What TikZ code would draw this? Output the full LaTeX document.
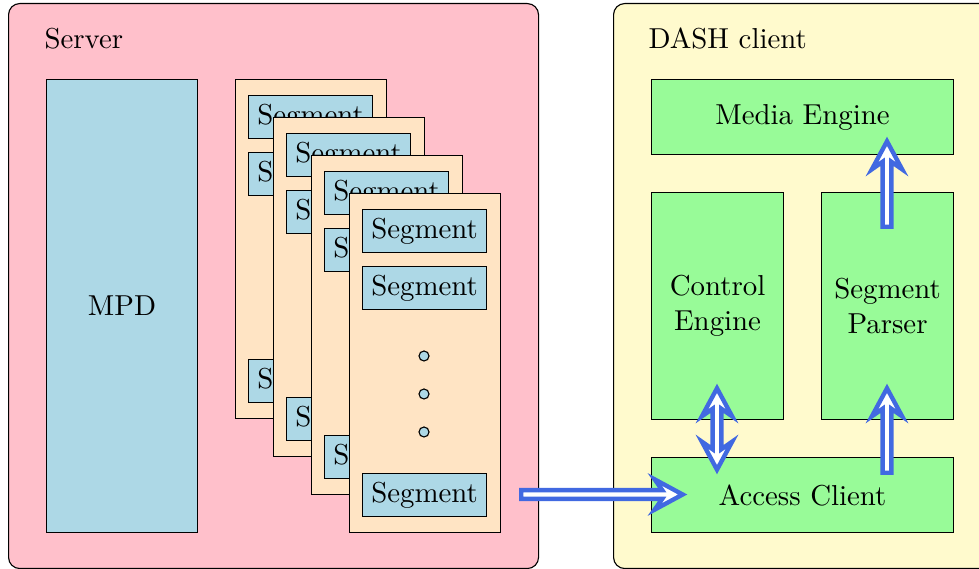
\documentclass[tikz,border=0pt]{standalone}
\usetikzlibrary{calc}
\definecolor{srvpink}{RGB}{255,192,203}
\definecolor{lblue}{RGB}{173,216,230}
\definecolor{bisq}{RGB}{255,228,196}
\definecolor{lemon}{RGB}{255,250,205}
\definecolor{pgreen}{RGB}{152,251,152}
\definecolor{royal}{RGB}{65,105,225}
\newdimen\pxu \pxu=0.3571pt
% fat outlined arrow from tail #1 to tip #2 (named coordinates)
\newcommand\fatarrow[2]{%
  \coordinate (#2p) at ($(#2)!1.9pt!(#1)$);
  \coordinate (#2b) at ($(#2)!11.9pt!(#1)$);
  \coordinate (#2n) at ($(#2)!9.2pt!(#1)$);
  \coordinate (#1p) at ($(#1)!0.78pt!(#2)$);
  \draw[fatarr] ($(#1p)!1.56pt!90:(#2)$) -- ($(#2n)!1.56pt!90:(#2)$)
    -- ($(#2b)!5.4pt!90:(#2)$) -- (#2p) -- ($(#2b)!5.4pt!-90:(#2)$)
    -- ($(#2n)!1.56pt!-90:(#2)$) -- ($(#1p)!1.56pt!-90:(#2)$) -- cycle;
}
% fat outlined arrow with heads at both ends
\newcommand\fatdarrow[2]{%
  \coordinate (#2p) at ($(#2)!1.9pt!(#1)$);
  \coordinate (#2b) at ($(#2)!11.9pt!(#1)$);
  \coordinate (#2n) at ($(#2)!9.2pt!(#1)$);
  \coordinate (#1p) at ($(#1)!1.9pt!(#2)$);
  \coordinate (#1b) at ($(#1)!11.9pt!(#2)$);
  \coordinate (#1n) at ($(#1)!9.2pt!(#2)$);
  \draw[fatarr] (#1p) -- ($(#1b)!5.4pt!90:(#2)$) -- ($(#1n)!1.56pt!90:(#2)$)
    -- ($(#2n)!1.56pt!90:(#2)$) -- ($(#2b)!5.4pt!90:(#2)$) -- (#2p)
    -- ($(#2b)!5.4pt!-90:(#2)$) -- ($(#2n)!1.56pt!-90:(#2)$)
    -- ($(#1n)!1.56pt!-90:(#2)$) -- ($(#1b)!5.4pt!-90:(#2)$) -- cycle;
}
\begin{document}
\begin{tikzpicture}[x=0.3571pt,y=-0.3571pt,
  every node/.style={font=\fontsize{10.3}{12.5}\selectfont},
  box/.style={draw=black, inner sep=0pt, anchor=north west, line width=0.4pt, align=center},
  bigbox/.style={box, rounded corners=4pt, minimum width=#1, minimum height=565*\pxu},
  card/.style={box, fill=bisq, minimum width=151*\pxu, minimum height=339*\pxu},
  segbox/.style={box, fill=lblue, minimum width=124*\pxu, minimum height=43*\pxu},
  dotc/.style={draw=black, fill=lblue, circle, inner sep=0pt, minimum size=10*\pxu},
  gbox/.style={box, fill=pgreen},
  lbl/.style={inner sep=0pt, anchor=base west},
  fatarr/.style={draw=royal, fill=white, line width=1.56pt, line join=miter},
]
\useasboundingbox (0,0) rectangle (979,569);
\clip (0,0) rectangle (979,569);
% server
\node[bigbox=530*\pxu, fill=srvpink] (server) at (8,3) {};
\node[lbl] (servert) at (44,49) {Server};
\node[box, fill=lblue, minimum width=151*\pxu, minimum height=453*\pxu] (mpd) at (46,79) {MPD};
\foreach \i/\cx/\cy in {1/235/79, 2/273/117, 3/311/155, 4/349/193}{
  \node[card] (card\i) at (\cx,\cy) {};
  \node[segbox] (segA\i) at (\cx+13,\cy+16) {Segment};
  \node[segbox] (segB\i) at (\cx+13,\cy+73) {Segment};
  \node[dotc] (dotA\i) at (\cx+75,\cy+163) {};
  \node[dotc] (dotB\i) at (\cx+75,\cy+201) {};
  \node[dotc] (dotC\i) at (\cx+75,\cy+239) {};
  \node[segbox] (segZ\i) at (\cx+13,\cy+280) {Segment};
}
% client
\node[bigbox=420*\pxu, fill=lemon] (client) at (613,3) {};
\node[lbl] (clientt) at (648,49) {DASH client};
\node[gbox, minimum width=302*\pxu, minimum height=75*\pxu] (media) at (651,79) {Media Engine};
\node[gbox, minimum width=132*\pxu, minimum height=227*\pxu] (control) at (651,192) {Control\\Engine};
\node[gbox, minimum width=132*\pxu, minimum height=227*\pxu] (parser) at (821,192) {Segment\\Parser};
\node[gbox, minimum width=302*\pxu, minimum height=75*\pxu] (access) at (651,457) {Access Client};
% arrows
\coordinate (ha) at (519,494.5);
\coordinate (hb) at (688,494.5);
\coordinate (ca) at (717,383);
\coordinate (cb) at (717,475);
\coordinate (pa) at (887,229);
\coordinate (pb) at (887,136);
\coordinate (qa) at (887,475);
\coordinate (qb) at (887,383);
\fatarrow{ha}{hb}
\fatdarrow{ca}{cb}
\fatarrow{pa}{pb}
\fatarrow{qa}{qb}
\end{tikzpicture}
\end{document}
